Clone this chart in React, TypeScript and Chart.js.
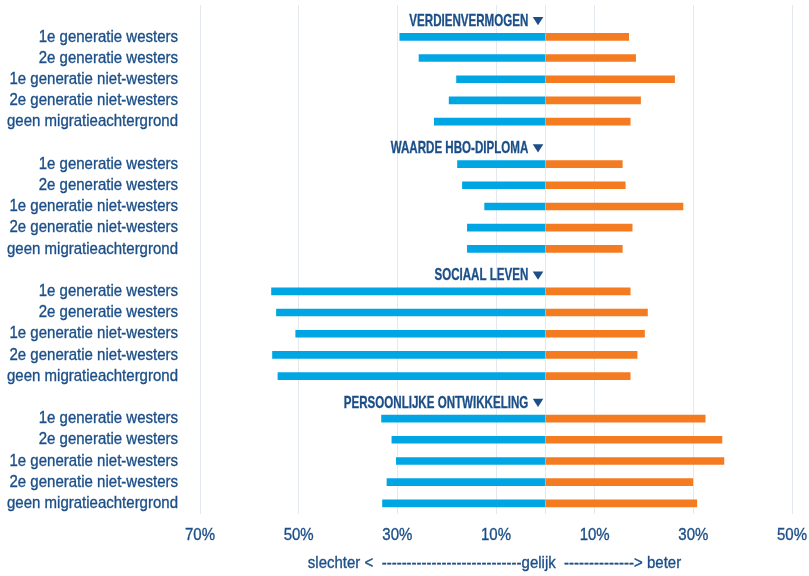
import React, { useEffect, useRef } from "react";
import { Chart, registerables } from "chart.js";

Chart.register(...registerables);

const groups = ["VERDIENVERMOGEN", "WAARDE HBO-DIPLOMA", "SOCIAAL LEVEN", "PERSOONLIJKE ONTWIKKELING"];
const subgroups = [
  "1e generatie westers",
  "2e generatie westers",
  "1e generatie niet-westers",
  "2e generatie niet-westers",
  "geen migratieachtergrond",
];
// "slechter" (worse) shares per group, in subgroup order
const worse = [
  [29.5, 25.6, 18.0, 19.5, 22.5],
  [17.8, 16.8, 12.3, 15.8, 15.8],
  [55.5, 54.5, 50.6, 55.3, 54.2],
  [33.2, 31.1, 30.2, 32.1, 33.0],
];
// "beter" (better) shares per group
const better = [
  [16.9, 18.3, 26.2, 19.3, 17.2],
  [15.6, 16.2, 27.9, 17.6, 15.6],
  [17.2, 20.7, 20.1, 18.6, 17.2],
  [32.4, 35.8, 36.2, 29.9, 30.7],
];
const tickValues = [-70, -50, -30, -10, 0, 10, 30, 50];
const axisTitle = "slechter <  ----------------------------gelijk  --------------> beter";

const FONT = "'Liberation Sans', Arial, sans-serif";
const TEXT = "#1c4f88";
const BLUE = "#00a5e3";
const ORANGE = "#f47b20";
const GRID = "#e4e9ef";

function drawScaled(ctx: CanvasRenderingContext2D, text: string, x: number, y: number, align: CanvasTextAlign, sx: number) {
  ctx.save();
  ctx.translate(x, y);
  ctx.scale(sx, 1);
  ctx.textAlign = align;
  ctx.textBaseline = "middle";
  ctx.fillText(text, 0, 0);
  ctx.lineWidth = 0.35;
  ctx.strokeStyle = ctx.fillStyle as string;
  ctx.strokeText(text, 0, 0);
  ctx.restore();
}

export default function App() {
  const ref = useRef<HTMLCanvasElement | null>(null);

  useEffect(() => {
    if (!ref.current) return;
    const labels: string[] = [];
    const worseData: (number | null)[] = [];
    const betterData: (number | null)[] = [];
    groups.forEach((g, gi) => {
      labels.push(g);
      worseData.push(null);
      betterData.push(null);
      subgroups.forEach((s, si) => {
        labels.push(s);
        worseData.push(-worse[gi][si]);
        betterData.push(better[gi][si]);
      });
    });

    const textPlugin = {
      id: "texts",
      afterDraw(chart: any) {
        const ctx: CanvasRenderingContext2D = chart.ctx;
        const xs = chart.scales.x;
        const ys = chart.scales.y;
        const area = chart.chartArea;
        const x0 = xs.getPixelForValue(0);
        ctx.save();
        ctx.fillStyle = TEXT;

        // condensed look for normal text
        ctx.font = `17px ${FONT}`;
        const cond = 171 / ctx.measureText("geen migratieachtergrond").width;

        // category labels
        labels.forEach((lab, i) => {
          if (i % 6 === 0) return;
          drawScaled(ctx, lab, area.left - 22, ys.getPixelForValue(i), "right", cond);
        });

        // x tick labels
        tickValues.forEach((v) => {
          if (v === 0) return;
          drawScaled(ctx, Math.abs(v) + "%", xs.getPixelForValue(v), area.bottom + 21, "center", cond);
        });

        // axis title
        drawScaled(ctx, axisTitle, (area.left + area.right) / 2 - 1.5, area.bottom + 49, "center", cond);

        // group headers
        ctx.font = `bold 17px ${FONT}`;
        const hcond = 119 / ctx.measureText("VERDIENVERMOGEN").width;
        groups.forEach((g, gi) => {
          const y = ys.getPixelForValue(gi * 6) + 5.5;
          drawScaled(ctx, g, x0 - 17, y, "right", hcond);
          ctx.beginPath();
          ctx.moveTo(x0 - 12.6, y - 4.2);
          ctx.lineTo(x0 - 2, y - 4.2);
          ctx.lineTo(x0 - 7.3, y + 4.2);
          ctx.closePath();
          ctx.fill();
        });
        ctx.restore();
      },
    };

    const chart = new Chart(ref.current, {
      type: "bar",
      data: {
        labels,
        datasets: [
          { label: "slechter", data: worseData, backgroundColor: BLUE, barThickness: 7, stack: "s" },
          { label: "beter", data: betterData, backgroundColor: ORANGE, barThickness: 7, stack: "s" },
        ],
      },
      options: {
        indexAxis: "y",
        animation: false,
        responsive: false,
        layout: { padding: { top: 5, right: 17, bottom: 62, left: 0 } },
        plugins: { legend: { display: false }, tooltip: { enabled: false } },
        scales: {
          x: {
            stacked: true,
            min: -70,
            max: 50,
            afterBuildTicks: (scale: any) => {
              scale.ticks = tickValues.map((v) => ({ value: v }));
            },
            grid: { color: GRID, drawTicks: false, lineWidth: 1 },
            border: { display: false },
            ticks: { display: false },
          },
          y: {
            stacked: true,
            afterFit: (scale: any) => {
              scale.width = 200;
            },
            grid: { display: false, drawTicks: false },
            border: { display: false },
            ticks: { display: false },
          },
        },
      },
      plugins: [textPlugin],
    });
    return () => chart.destroy();
  }, []);

  return (
    <div style={{ position: "absolute", left: 0, top: 0, width: 809, height: 576, background: "#fff" }}>
      <canvas ref={ref} width={809} height={576} />
    </div>
  );
}
